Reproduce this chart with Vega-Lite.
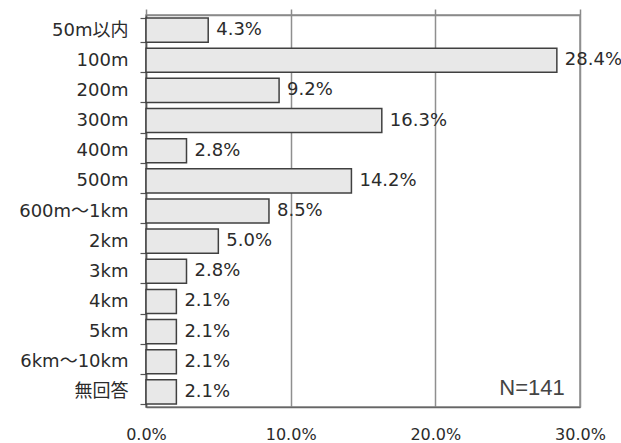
{
  "$schema": "https://vega.github.io/schema/vega-lite/v6.json",
  "width": 434,
  "height": 392,
  "autosize": {"type": "none"},
  "padding": {"left": 146, "top": 15, "right": 41, "bottom": 36},
  "background": "white",
  "config": {
    "view": {"stroke": "#8a8a8a", "strokeWidth": 1.5},
    "font": "DejaVu Sans"
  },
  "data": {
    "values": [
      {"distance": "50m以内", "value": 4.3},
      {"distance": "100m", "value": 28.4},
      {"distance": "200m", "value": 9.2},
      {"distance": "300m", "value": 16.3},
      {"distance": "400m", "value": 2.8},
      {"distance": "500m", "value": 14.2},
      {"distance": "600m～1km", "value": 8.5},
      {"distance": "2km", "value": 5.0},
      {"distance": "3km", "value": 2.8},
      {"distance": "4km", "value": 2.1},
      {"distance": "5km", "value": 2.1},
      {"distance": "6km～10km", "value": 2.1},
      {"distance": "無回答", "value": 2.1}
    ]
  },
  "encoding": {
    "y": {
      "field": "distance",
      "type": "nominal",
      "sort": null,
      "scale": {"paddingInner": 0.2, "paddingOuter": 0.1},
      "axis": {
        "title": null,
        "domainColor": "#555555",
        "domainWidth": 1.5,
        "tickColor": "#555555",
        "tickWidth": 1.2,
        "tickSize": 6,
        "tickBand": "extent",
        "labelPadding": 12,
        "labelFont": "DejaVu Sans, Noto Sans CJK JP",
        "labelFontSize": 18,
        "labelColor": "#2b2b2b"
      }
    }
  },
  "layer": [
    {
      "mark": {"type": "bar", "fill": "#e8e8e8", "stroke": "#404040", "strokeWidth": 1.5},
      "encoding": {
        "x": {
          "field": "value",
          "type": "quantitative",
          "scale": {"domain": [0, 30], "nice": false},
          "axis": {
            "orient": "bottom",
            "title": null,
            "values": [0, 10, 20, 30],
            "labelExpr": "format(datum.value, '.1f') + '%'",
            "grid": true,
            "gridColor": "#8f8f8f",
            "gridWidth": 1.5,
            "domainColor": "#666666",
            "domainWidth": 1.5,
            "ticks": false,
            "labelPadding": 19,
            "labelFontSize": 16,
            "labelColor": "#2b2b2b",
            "labelFlush": false
          }
        }
      }
    },
    {
      "transform": [{"calculate": "format(datum.value, '.1f') + '%'", "as": "label"}],
      "mark": {"type": "text", "align": "left", "baseline": "middle", "dx": 8, "fontSize": 18, "color": "#2b2b2b", "font": "DejaVu Sans"},
      "encoding": {
        "x": {"field": "value", "type": "quantitative", "axis": null},
        "text": {"field": "label"}
      }
    },
    {
      "data": {"values": [{"note": "N=141", "pos": 28.95, "row": "無回答"}]},
      "mark": {"type": "text", "align": "right", "baseline": "middle", "dy": -4, "fontSize": 22, "color": "#444444", "font": "Liberation Sans"},
      "encoding": {
        "x": {
          "field": "pos",
          "type": "quantitative",
          "axis": {
            "orient": "top",
            "title": null,
            "values": [0, 10, 20, 30],
            "labels": false,
            "grid": false,
            "domainColor": "#8a8a8a",
            "domainWidth": 1.5,
            "tickColor": "#8a8a8a",
            "tickWidth": 1.5,
            "tickSize": 6
          }
        },
        "y": {"field": "row", "type": "nominal", "sort": null},
        "text": {"field": "note"}
      }
    }
  ],
  "resolve": {"axis": {"x": "independent"}}
}
